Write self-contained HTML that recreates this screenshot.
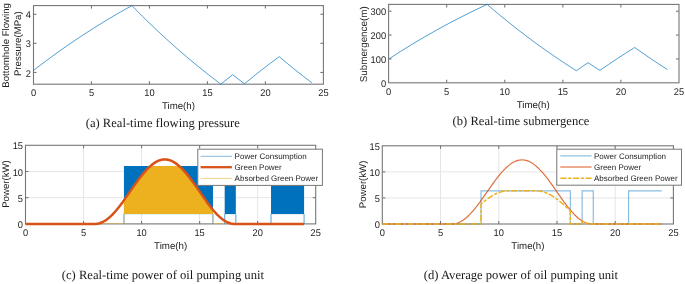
<!DOCTYPE html>
<html><head><meta charset="utf-8"><style>
html,body{margin:0;padding:0;background:#fff;}
body{width:685px;height:284px;overflow:hidden;}
svg{display:block;will-change:transform;}
text{text-rendering:geometricPrecision;}
.t{font-family:"Liberation Sans",sans-serif;font-size:9.3px;fill:#1c1c1c;}
.l{font-family:"Liberation Sans",sans-serif;font-size:9.7px;fill:#1c1c1c;}
.ly{font-family:"Liberation Sans",sans-serif;font-size:9.65px;fill:#1c1c1c;}
.g{font-family:"Liberation Sans",sans-serif;font-size:8px;fill:#1c1c1c;}
.c{font-family:"Liberation Serif",serif;font-size:12.6px;fill:#1a1a1a;}
</style></head><body>
<svg width="685" height="284" viewBox="0 0 685 284">
<rect width="685" height="284" fill="#fff"/>
<rect x="33.5" y="5.6" width="289.9" height="78.6" fill="none" stroke="#777777" stroke-width="1.1"/>
<line x1="91.48" y1="84.2" x2="91.48" y2="81.2" stroke="#777777" stroke-width="1.1"/>
<line x1="91.48" y1="5.6" x2="91.48" y2="8.6" stroke="#777777" stroke-width="1.1"/>
<line x1="149.46" y1="84.2" x2="149.46" y2="81.2" stroke="#777777" stroke-width="1.1"/>
<line x1="149.46" y1="5.6" x2="149.46" y2="8.6" stroke="#777777" stroke-width="1.1"/>
<line x1="207.44" y1="84.2" x2="207.44" y2="81.2" stroke="#777777" stroke-width="1.1"/>
<line x1="207.44" y1="5.6" x2="207.44" y2="8.6" stroke="#777777" stroke-width="1.1"/>
<line x1="265.42" y1="84.2" x2="265.42" y2="81.2" stroke="#777777" stroke-width="1.1"/>
<line x1="265.42" y1="5.6" x2="265.42" y2="8.6" stroke="#777777" stroke-width="1.1"/>
<line x1="33.5" y1="72.45" x2="36.5" y2="72.45" stroke="#777777" stroke-width="1.1"/>
<line x1="323.4" y1="72.45" x2="320.4" y2="72.45" stroke="#777777" stroke-width="1.1"/>
<line x1="33.5" y1="43.3" x2="36.5" y2="43.3" stroke="#777777" stroke-width="1.1"/>
<line x1="323.4" y1="43.3" x2="320.4" y2="43.3" stroke="#777777" stroke-width="1.1"/>
<line x1="33.5" y1="14.3" x2="36.5" y2="14.3" stroke="#777777" stroke-width="1.1"/>
<line x1="323.4" y1="14.3" x2="320.4" y2="14.3" stroke="#777777" stroke-width="1.1"/>
<polyline points="33.5,70.45 45.19,61.51 57.04,52.82 69.05,44.37 81.25,36.15 93.61,28.17 106.16,20.42 118.89,12.9 131.83,5.6 142.48,16.35 153.24,26.81 164.14,37 175.2,46.96 186.4,56.65 197.75,66.08 209.25,75.27 220.89,84.2 232.6,74.69 244.43,83.78 252.99,76.8 261.64,69.96 270.38,63.26 279.22,56.69 287.24,63.4 295.36,70 303.55,76.46 311.8,82.8" fill="none" stroke="#0072BD" stroke-width="1.0" stroke-opacity="0.68" stroke-linejoin="round"/>
<text transform="translate(33.5,96.4) scale(1,1.04)" text-anchor="middle" class="t">0</text>
<text transform="translate(91.48,96.4) scale(1,1.04)" text-anchor="middle" class="t">5</text>
<text transform="translate(149.46,96.4) scale(1,1.04)" text-anchor="middle" class="t">10</text>
<text transform="translate(207.44,96.4) scale(1,1.04)" text-anchor="middle" class="t">15</text>
<text transform="translate(265.42,96.4) scale(1,1.04)" text-anchor="middle" class="t">20</text>
<text transform="translate(323.4,96.4) scale(1,1.04)" text-anchor="middle" class="t">25</text>
<text transform="translate(31,76.55) scale(1,1.04)" text-anchor="end" class="t">2</text>
<text transform="translate(31,47.4) scale(1,1.04)" text-anchor="end" class="t">3</text>
<text transform="translate(31,18.4) scale(1,1.04)" text-anchor="end" class="t">4</text>
<text transform="translate(178.45,109) scale(1,1.0)" text-anchor="middle" class="l">Time(h)</text>
<text transform="translate(8.6,45.4) rotate(-90)" text-anchor="middle" class="ly">Bottomhole Flowing</text>
<text transform="translate(21.1,43.7) rotate(-90)" text-anchor="middle" class="ly">Pressure(MPa)</text>
<rect x="388.6" y="4.4" width="290.4" height="78.4" fill="none" stroke="#777777" stroke-width="1.1"/>
<line x1="446.68" y1="82.8" x2="446.68" y2="79.8" stroke="#777777" stroke-width="1.1"/>
<line x1="446.68" y1="4.4" x2="446.68" y2="7.4" stroke="#777777" stroke-width="1.1"/>
<line x1="504.76" y1="82.8" x2="504.76" y2="79.8" stroke="#777777" stroke-width="1.1"/>
<line x1="504.76" y1="4.4" x2="504.76" y2="7.4" stroke="#777777" stroke-width="1.1"/>
<line x1="562.84" y1="82.8" x2="562.84" y2="79.8" stroke="#777777" stroke-width="1.1"/>
<line x1="562.84" y1="4.4" x2="562.84" y2="7.4" stroke="#777777" stroke-width="1.1"/>
<line x1="620.92" y1="82.8" x2="620.92" y2="79.8" stroke="#777777" stroke-width="1.1"/>
<line x1="620.92" y1="4.4" x2="620.92" y2="7.4" stroke="#777777" stroke-width="1.1"/>
<line x1="388.6" y1="58.93" x2="391.6" y2="58.93" stroke="#777777" stroke-width="1.1"/>
<line x1="679" y1="58.93" x2="676" y2="58.93" stroke="#777777" stroke-width="1.1"/>
<line x1="388.6" y1="35.06" x2="391.6" y2="35.06" stroke="#777777" stroke-width="1.1"/>
<line x1="679" y1="35.06" x2="676" y2="35.06" stroke="#777777" stroke-width="1.1"/>
<line x1="388.6" y1="11.19" x2="391.6" y2="11.19" stroke="#777777" stroke-width="1.1"/>
<line x1="679" y1="11.19" x2="676" y2="11.19" stroke="#777777" stroke-width="1.1"/>
<polyline points="388.6,59.12 400.31,51.58 412.18,44.24 424.21,37.11 436.43,30.17 448.82,23.44 461.39,16.9 474.14,10.55 487.1,4.39 497.77,13.46 508.55,22.28 519.47,30.89 530.55,39.29 541.77,47.47 553.13,55.43 564.65,63.19 576.31,70.72 588.05,62.7 599.9,70.37 608.47,64.48 617.13,58.71 625.89,53.05 634.74,47.5 642.78,53.17 650.91,58.73 659.11,64.19 667.38,69.54" fill="none" stroke="#0072BD" stroke-width="1.0" stroke-opacity="0.68" stroke-linejoin="round"/>
<text transform="translate(388.6,95) scale(1,1.04)" text-anchor="middle" class="t">0</text>
<text transform="translate(446.68,95) scale(1,1.04)" text-anchor="middle" class="t">5</text>
<text transform="translate(504.76,95) scale(1,1.04)" text-anchor="middle" class="t">10</text>
<text transform="translate(562.84,95) scale(1,1.04)" text-anchor="middle" class="t">15</text>
<text transform="translate(620.92,95) scale(1,1.04)" text-anchor="middle" class="t">20</text>
<text transform="translate(679,95) scale(1,1.04)" text-anchor="middle" class="t">25</text>
<text transform="translate(386.1,86.9) scale(1,1.04)" text-anchor="end" class="t">0</text>
<text transform="translate(386.1,63.03) scale(1,1.04)" text-anchor="end" class="t">100</text>
<text transform="translate(386.1,39.16) scale(1,1.04)" text-anchor="end" class="t">200</text>
<text transform="translate(386.1,15.29) scale(1,1.04)" text-anchor="end" class="t">300</text>
<text transform="translate(533.2,108) scale(1,1.0)" text-anchor="middle" class="l">Time(h)</text>
<text transform="translate(367.0,44.3) rotate(-90)" text-anchor="middle" class="ly" style="font-size:9.85px">Submergence(m)</text>
<line x1="83.54" y1="145.3" x2="83.54" y2="223.9" stroke="#e6e6e6" stroke-width="1"/>
<line x1="141.58" y1="145.3" x2="141.58" y2="223.9" stroke="#e6e6e6" stroke-width="1"/>
<line x1="199.62" y1="145.3" x2="199.62" y2="223.9" stroke="#e6e6e6" stroke-width="1"/>
<line x1="257.66" y1="145.3" x2="257.66" y2="223.9" stroke="#e6e6e6" stroke-width="1"/>
<line x1="25.5" y1="197.7" x2="315.7" y2="197.7" stroke="#e6e6e6" stroke-width="1"/>
<line x1="25.5" y1="171.5" x2="315.7" y2="171.5" stroke="#e6e6e6" stroke-width="1"/>
<rect x="25.5" y="145.3" width="290.2" height="78.6" fill="none" stroke="#777777" stroke-width="1.1"/>
<line x1="83.54" y1="223.9" x2="83.54" y2="220.9" stroke="#777777" stroke-width="1.1"/>
<line x1="83.54" y1="145.3" x2="83.54" y2="148.3" stroke="#777777" stroke-width="1.1"/>
<line x1="141.58" y1="223.9" x2="141.58" y2="220.9" stroke="#777777" stroke-width="1.1"/>
<line x1="141.58" y1="145.3" x2="141.58" y2="148.3" stroke="#777777" stroke-width="1.1"/>
<line x1="199.62" y1="223.9" x2="199.62" y2="220.9" stroke="#777777" stroke-width="1.1"/>
<line x1="199.62" y1="145.3" x2="199.62" y2="148.3" stroke="#777777" stroke-width="1.1"/>
<line x1="257.66" y1="223.9" x2="257.66" y2="220.9" stroke="#777777" stroke-width="1.1"/>
<line x1="257.66" y1="145.3" x2="257.66" y2="148.3" stroke="#777777" stroke-width="1.1"/>
<line x1="25.5" y1="197.7" x2="28.5" y2="197.7" stroke="#777777" stroke-width="1.1"/>
<line x1="315.7" y1="197.7" x2="312.7" y2="197.7" stroke="#777777" stroke-width="1.1"/>
<line x1="25.5" y1="171.5" x2="28.5" y2="171.5" stroke="#777777" stroke-width="1.1"/>
<line x1="315.7" y1="171.5" x2="312.7" y2="171.5" stroke="#777777" stroke-width="1.1"/>
<rect x="123.94" y="166" width="89.03" height="48.1" fill="#0072BD"/>
<path d="M123.94,223.9V214.1M212.97,223.9V214.1" stroke="#0072BD" stroke-width="0.8" stroke-opacity="0.85" fill="none"/>
<rect x="224.69" y="166" width="11.14" height="48.1" fill="#0072BD"/>
<path d="M224.69,223.9V214.1M235.84,223.9V214.1" stroke="#0072BD" stroke-width="0.8" stroke-opacity="0.85" fill="none"/>
<rect x="271.01" y="166" width="33.08" height="48.1" fill="#0072BD"/>
<path d="M271.01,223.9V214.1M304.09,223.9V214.1" stroke="#0072BD" stroke-width="0.8" stroke-opacity="0.85" fill="none"/>
<polygon points="123.94,214.1 123.94,200.34 135.31,183.99 140.54,176.89 145.99,170.36 148.78,167.5 150.52,166 179.19,166.01 184.07,170.87 189.29,177.19 194.4,184.15 206.58,201.63 212.97,209.93 212.97,214.1" fill="#EDB120"/>
<path d="M98.63,223.5H123.94V214.1M212.97,214.1V223.5H224.69" stroke="#EDB120" stroke-width="0.7" stroke-opacity="0.6" fill="none"/>
<polyline points="25.5,223.9 95.5,223.9 98.86,223.45 102.34,222.22 105.6,220.39 108.96,217.84 112.44,214.58 116.16,210.48 119.41,206.45 123.01,201.63 134.85,184.64 139.26,178.57 143.79,172.87 147.85,168.41 152.26,164.46 154.46,162.88 156.55,161.65 158.64,160.68 160.73,159.99 162.82,159.58 164.8,159.45 166.77,159.58 168.86,159.99 170.95,160.68 173.04,161.65 175.13,162.88 177.33,164.46 181.74,168.41 185.81,172.87 190.33,178.57 194.74,184.64 206.58,201.63 210.18,206.45 213.43,210.48 217.15,214.58 220.63,217.84 224,220.39 227.25,222.22 230.73,223.45 234.1,223.9 304.09,223.9" fill="none" stroke="#D95319" stroke-width="2.5" stroke-linejoin="round"/>
<text transform="translate(25.5,236.1) scale(1,1.04)" text-anchor="middle" class="t">0</text>
<text transform="translate(83.54,236.1) scale(1,1.04)" text-anchor="middle" class="t">5</text>
<text transform="translate(141.58,236.1) scale(1,1.04)" text-anchor="middle" class="t">10</text>
<text transform="translate(199.62,236.1) scale(1,1.04)" text-anchor="middle" class="t">15</text>
<text transform="translate(257.66,236.1) scale(1,1.04)" text-anchor="middle" class="t">20</text>
<text transform="translate(315.7,236.1) scale(1,1.04)" text-anchor="middle" class="t">25</text>
<text transform="translate(23,228) scale(1,1.04)" text-anchor="end" class="t">0</text>
<text transform="translate(23,201.8) scale(1,1.04)" text-anchor="end" class="t">5</text>
<text transform="translate(23,175.6) scale(1,1.04)" text-anchor="end" class="t">10</text>
<text transform="translate(23,149.4) scale(1,1.04)" text-anchor="end" class="t">15</text>
<text transform="translate(170.6,249) scale(1,1.0)" text-anchor="middle" class="l">Time(h)</text>
<text transform="translate(9.1,184) rotate(-90)" text-anchor="middle" class="ly">Power(kW)</text>
<rect x="197.8" y="149.2" width="124.6" height="36.2" fill="#fff" stroke="#777777" stroke-width="1"/>
<line x1="200.6" y1="156.3" x2="231.9" y2="156.3" stroke="#0072BD" stroke-width="0.8" stroke-opacity="0.6"/>
<text x="234.6" y="159.2" class="g">Power Consumption</text>
<line x1="200.6" y1="167.2" x2="231.9" y2="167.2" stroke="#D95319" stroke-width="2.3"/>
<text x="234.6" y="170.1" class="g">Green Power</text>
<line x1="200.6" y1="178.4" x2="231.9" y2="178.4" stroke="#EDB120" stroke-width="0.8" stroke-opacity="0.7"/>
<text x="234.6" y="181.3" class="g">Absorbed Green Power</text>
<line x1="440.52" y1="145.8" x2="440.52" y2="224" stroke="#e6e6e6" stroke-width="1"/>
<line x1="498.74" y1="145.8" x2="498.74" y2="224" stroke="#e6e6e6" stroke-width="1"/>
<line x1="556.96" y1="145.8" x2="556.96" y2="224" stroke="#e6e6e6" stroke-width="1"/>
<line x1="615.18" y1="145.8" x2="615.18" y2="224" stroke="#e6e6e6" stroke-width="1"/>
<line x1="382.3" y1="197.93" x2="673.4" y2="197.93" stroke="#e6e6e6" stroke-width="1"/>
<line x1="382.3" y1="171.87" x2="673.4" y2="171.87" stroke="#e6e6e6" stroke-width="1"/>
<rect x="382.3" y="145.8" width="291.1" height="78.2" fill="none" stroke="#777777" stroke-width="1.1"/>
<line x1="440.52" y1="224" x2="440.52" y2="221" stroke="#777777" stroke-width="1.1"/>
<line x1="440.52" y1="145.8" x2="440.52" y2="148.8" stroke="#777777" stroke-width="1.1"/>
<line x1="498.74" y1="224" x2="498.74" y2="221" stroke="#777777" stroke-width="1.1"/>
<line x1="498.74" y1="145.8" x2="498.74" y2="148.8" stroke="#777777" stroke-width="1.1"/>
<line x1="556.96" y1="224" x2="556.96" y2="221" stroke="#777777" stroke-width="1.1"/>
<line x1="556.96" y1="145.8" x2="556.96" y2="148.8" stroke="#777777" stroke-width="1.1"/>
<line x1="615.18" y1="224" x2="615.18" y2="221" stroke="#777777" stroke-width="1.1"/>
<line x1="615.18" y1="145.8" x2="615.18" y2="148.8" stroke="#777777" stroke-width="1.1"/>
<line x1="382.3" y1="197.93" x2="385.3" y2="197.93" stroke="#777777" stroke-width="1.1"/>
<line x1="673.4" y1="197.93" x2="670.4" y2="197.93" stroke="#777777" stroke-width="1.1"/>
<line x1="382.3" y1="171.87" x2="385.3" y2="171.87" stroke="#777777" stroke-width="1.1"/>
<line x1="673.4" y1="171.87" x2="670.4" y2="171.87" stroke="#777777" stroke-width="1.1"/>
<path d="M382.3,224H481.04V190.79H570.35V224H582.11V190.79H593.29V224H628.57V190.79H661.76" stroke="#0072BD" stroke-width="1.2" stroke-opacity="0.46" fill="none"/>
<polyline points="382.3,224 452.51,224 454.14,223.87 455.89,223.55 457.64,223.03 459.38,222.33 462.64,220.51 466.02,217.98 469.51,214.73 473.24,210.65 476.5,206.64 480.11,201.85 491.99,184.94 496.41,178.9 500.95,173.23 505.03,168.8 507.24,166.71 509.45,164.87 511.66,163.29 513.76,162.07 515.86,161.1 517.95,160.41 520.05,160 522.03,159.88 524.01,160 526.1,160.41 528.2,161.1 530.3,162.07 532.39,163.29 534.6,164.87 536.82,166.71 539.03,168.8 543.1,173.23 547.64,178.9 552.07,184.94 563.95,201.85 567.56,206.64 570.82,210.65 574.54,214.73 578.04,217.98 581.41,220.51 584.67,222.33 586.42,223.03 588.17,223.55 589.91,223.87 591.54,224 661.76,224" fill="none" stroke="#D95319" stroke-width="1.15" stroke-opacity="0.85" stroke-linejoin="round"/>
<polyline points="382.3,224 480.92,224 481.04,204.05 484.88,200.82 488.26,198.27 491.64,196.05 494.9,194.25 498.16,192.82 501.42,191.76 504.68,191.07 507.71,190.79 537.75,190.87 540.89,191.34 543.92,192.13 547.06,193.29 550.09,194.73 554.4,197.31 558.94,200.63 563.95,204.87 570.23,210.7 570.35,224 581.99,224 582.11,220.99 584.44,222.24 586.77,223.16 589.1,223.75 591.31,223.99 661.76,224" fill="none" stroke="#EDB120" stroke-width="1.5" stroke-dasharray="6.3 1.6 3.2 1.6" stroke-linejoin="round"/>
<text transform="translate(382.3,236.2) scale(1,1.04)" text-anchor="middle" class="t">0</text>
<text transform="translate(440.52,236.2) scale(1,1.04)" text-anchor="middle" class="t">5</text>
<text transform="translate(498.74,236.2) scale(1,1.04)" text-anchor="middle" class="t">10</text>
<text transform="translate(556.96,236.2) scale(1,1.04)" text-anchor="middle" class="t">15</text>
<text transform="translate(615.18,236.2) scale(1,1.04)" text-anchor="middle" class="t">20</text>
<text transform="translate(673.4,236.2) scale(1,1.04)" text-anchor="middle" class="t">25</text>
<text transform="translate(379.8,228.1) scale(1,1.04)" text-anchor="end" class="t">0</text>
<text transform="translate(379.8,202.03) scale(1,1.04)" text-anchor="end" class="t">5</text>
<text transform="translate(379.8,175.97) scale(1,1.04)" text-anchor="end" class="t">10</text>
<text transform="translate(379.8,149.9) scale(1,1.04)" text-anchor="end" class="t">15</text>
<text transform="translate(527.85,249.2) scale(1,1.0)" text-anchor="middle" class="l">Time(h)</text>
<text transform="translate(366,184.4) rotate(-90)" text-anchor="middle" class="ly">Power(kW)</text>
<rect x="556.8" y="149.2" width="124.7" height="36" fill="#fff" stroke="#777777" stroke-width="1"/>
<line x1="560.3" y1="155.9" x2="591.6" y2="155.9" stroke="#0072BD" stroke-width="1.2" stroke-opacity="0.46"/>
<text x="594" y="158.8" class="g">Power Consumption</text>
<line x1="560.3" y1="167" x2="591.6" y2="167" stroke="#D95319" stroke-width="1.15" stroke-opacity="0.85"/>
<text x="594" y="169.9" class="g">Green Power</text>
<line x1="560.3" y1="178.3" x2="591.6" y2="178.3" stroke="#EDB120" stroke-width="1.5" stroke-dasharray="6.3 1.6 3.2 1.6"/>
<text x="594" y="181.2" class="g">Absorbed Green Power</text>
<text x="85.7" y="126.6" class="c">(a) Real-time flowing pressure</text>
<text x="452.6" y="124.6" class="c">(b) Real-time submergence</text>
<text x="61.8" y="278.8" class="c">(c) Real-time power of oil pumping unit</text>
<text x="423.8" y="278.8" class="c">(d) Average power of oil pumping unit</text>
</svg>
</body></html>
